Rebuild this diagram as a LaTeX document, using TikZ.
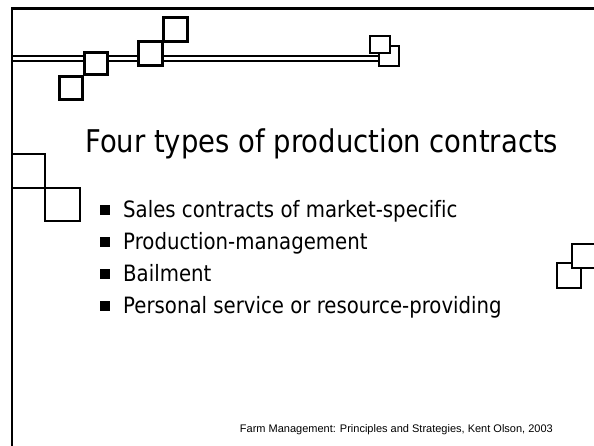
\documentclass[tikz,border=0pt]{standalone}
\usepackage{fontspec}
\newfontfamily\tfont[FakeStretch=0.877,Ligatures=NoCommon]{DejaVu Sans}
\newfontfamily\ffont{Liberation Sans}
\begin{document}
\begin{tikzpicture}[x=1pt,y=-1pt]
\tikzset{
  frame/.style={line width=2.4pt, line cap=rect},
  rail/.style={line width=1.9pt},
  sq/.style={draw=black, fill=white, line width=2.9pt},
  sqs/.style={draw=black, fill=white, line width=2.6pt},
  bul/.style={fill=black},
  titletext/.style={font=\tfont\fontsize{31.3}{31.3}\selectfont, inner sep=0, anchor=base west},
  item/.style={font=\tfont\fontsize{22.5}{22.5}\selectfont, inner sep=0, anchor=base west},
  foot/.style={font=\ffont\fontsize{11}{11}\selectfont, inner sep=0, anchor=base east}
}
\useasboundingbox (0,0) rectangle (594,445);
\fill[white] (0,0) rectangle (594,445);
% frame
\draw[frame] (11.7,445) -- (11.7,8.3) -- (594,8.3);
% double rail
\draw[rail] (12,55.8) -- (378,55.8);
\draw[rail] (12,60.6) -- (378,60.6);
% squares on the rail
\draw[sq] (59.5,76.5) rectangle (82.5,99.5);
\draw[sq] (84.5,52.5) rectangle (107.5,74.5);
\draw[sq] (138.5,41.5) rectangle (162.5,65.5);
\draw[sq] (163.5,17.5) rectangle (187.5,41.5);
\draw[sqs] (379,46) rectangle (399,66);
\draw[sqs] (370,36) rectangle (390,53);
% left squares
\draw[sqs] (12,154) rectangle (45,188);
\draw[sqs] (45,188) rectangle (80,221);
% right squares
\draw[sqs] (557,263) rectangle (581,288);
\draw[sqs] (572,244) rectangle (600,268);
% title
\node[titletext] (title) at (85,152) {Four types of production contracts};
% bullets
\fill[bul] (100,205) rectangle (109.5,214.5);
\fill[bul] (100,237) rectangle (109.5,246.5);
\fill[bul] (100,269) rectangle (109.5,278.5);
\fill[bul] (100,301) rectangle (109.5,310.5);
\node[item] (i1) at (123,217) {Sales contracts of market-specific};
\node[item] (i2) at (123,249) {Production-management};
\node[item] (i3) at (123,281) {Bailment};
\node[item] (i4) at (123,313) {Personal service or resource-providing};
% footer
\node[foot] (foot) at (553,432) {Farm Management: Principles and Strategies, Kent Olson, 2003};
\end{tikzpicture}
\end{document}
